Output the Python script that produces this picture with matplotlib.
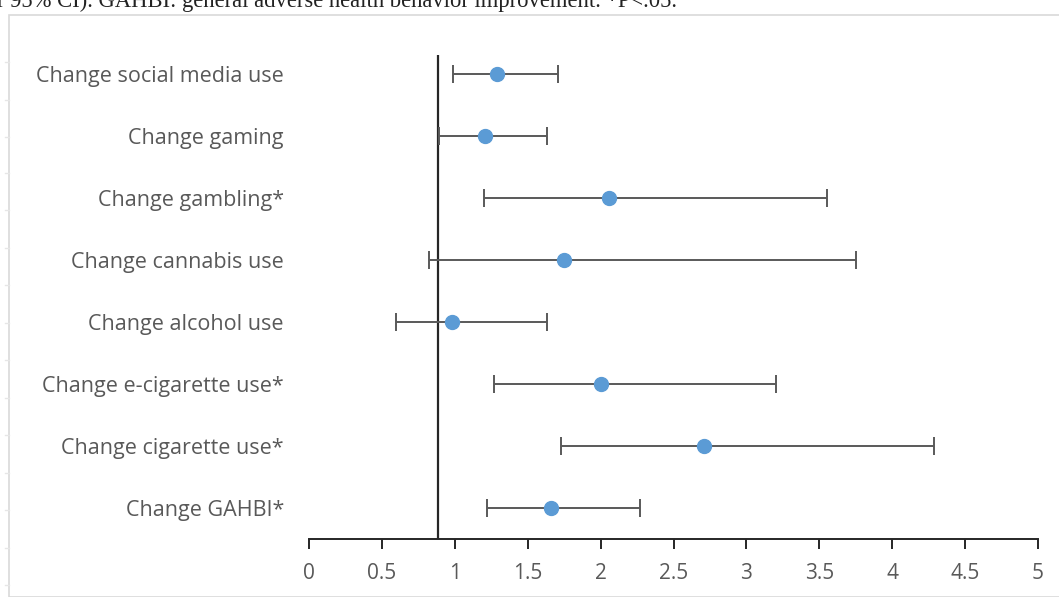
import matplotlib
matplotlib.use("Agg")
import matplotlib.pyplot as plt
from matplotlib.patches import Rectangle
import numpy as np

categories = ["Change social media use", "Change gaming", "Change gambling*",
              "Change cannabis use", "Change alcohol use", "Change e-cigarette use*",
              "Change cigarette use*", "Change GAHBI*"]
estimate = [1.29, 1.21, 2.06, 1.75, 0.98, 2.00, 2.71, 1.66]
lower = [0.99, 0.89, 1.20, 0.82, 0.60, 1.27, 1.73, 1.22]
upper = [1.71, 1.63, 3.55, 3.75, 1.63, 3.20, 4.29, 2.27]
ref_line = 0.885
xticks = [0, 0.5, 1, 1.5, 2, 2.5, 3, 3.5, 4, 4.5, 5]
xticklabels = ["0", "0.5", "1", "1.5", "2", "2.5", "3", "3.5", "4", "4.5", "5"]
caption = "r 95% CI). GAHBI: general adverse health behavior improvement. *P<.05."

W, H = 1059, 597
fig = plt.figure(figsize=(W / 100, H / 100), dpi=100)

# chart-area border
fig.patches.append(Rectangle((9 / W, 0), 1.2, 1 - 15 / H, transform=fig.transFigure,
                             fill=False, edgecolor="#d9d9d9", linewidth=1.2))
# faint ticks on the left border
for yy in [62, 100, 137, 173, 210, 248, 285, 323, 360, 398, 435, 473, 510, 548, 585]:
    fig.add_artist(plt.Line2D([5 / W, 9 / W], [1 - yy / H, 1 - yy / H],
                              transform=fig.transFigure, color="#e6e6e6", lw=1))

fig.text(-3 / W, 1 - 7 / H, caption, family="Liberation Serif", fontsize=16.3,
         va="baseline", ha="left", color="#222222")

left, right = 309 / W, 1038 / W
bottom, top = 1 - 539 / H, 1 - 55 / H
ax = fig.add_axes([left, bottom, right - left, top - bottom])

n = len(categories)
ypos = np.arange(n, 0, -1)
est = np.array(estimate)
lo = np.array(lower)
hi = np.array(upper)

ax.errorbar(est, ypos, xerr=[est - lo, hi - est], fmt="none", ecolor="#595959",
            elinewidth=1.4, capsize=6.5, capthick=1.4, zorder=2)
ax.plot(est, ypos, "o", color="#5b9bd5", markersize=10, zorder=3)
ax.axvline(ref_line, color="#262626", lw=1.6, zorder=1)

ax.set_xlim(0, 5)
ax.set_ylim(0.5, 8.3)
ax.set_xticks(xticks)
ax.set_xticklabels(xticklabels)
ax.set_yticks(ypos)
ax.set_yticklabels(categories)

for s in ["top", "right", "left"]:
    ax.spines[s].set_visible(False)
ax.spines["bottom"].set_color("#262626")
ax.spines["bottom"].set_linewidth(1.4)
ax.tick_params(axis="x", direction="out", length=7, width=1.4, color="#262626",
               pad=10, labelsize=15, labelcolor="#595959")
ax.tick_params(axis="y", length=0, pad=18, labelsize=15.5, labelcolor="#595959")
for lab in ax.get_xticklabels() + ax.get_yticklabels():
    lab.set_family("Open Sans")

fig.savefig("out.png", dpi=100)
